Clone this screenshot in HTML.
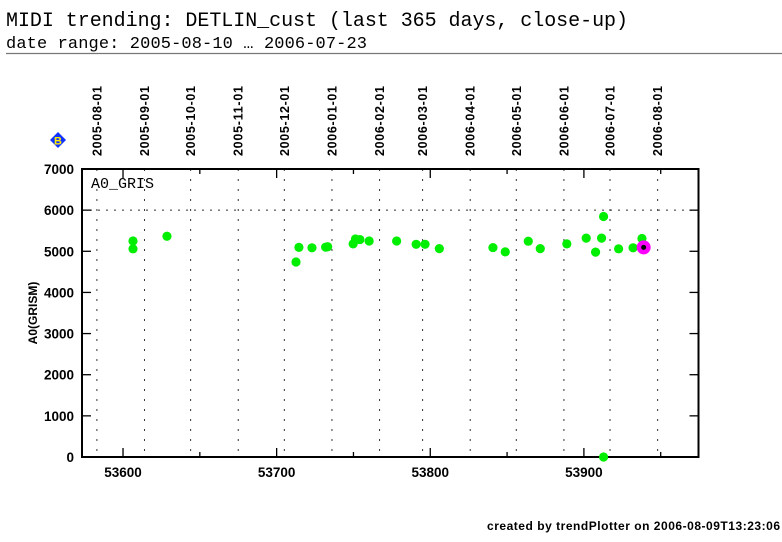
<!DOCTYPE html>
<html><head><meta charset="utf-8">
<style>
body{margin:0;background:#fff;width:782px;height:542px;overflow:hidden}
svg{display:block}
</style></head>
<body>
<svg id="chart" width="782" height="542" xmlns="http://www.w3.org/2000/svg">
<text x="6" y="26" font-family="Liberation Mono, monospace" font-size="20" fill="#000" textLength="622">MIDI trending: DETLIN_cust (last 365 days, close-up)</text>
<text x="6" y="48" font-family="Liberation Mono, monospace" font-size="17" fill="#000" textLength="361">date range: 2005-08-10 … 2006-07-23</text>
<line x1="6" y1="53.5" x2="782" y2="53.5" stroke="#777" stroke-width="1.2"/>
<g>
<polygon points="58,132 66,140 58,148 50,140" fill="#1133ff"/>
<text x="58" y="144.5" text-anchor="middle" font-family="Liberation Sans, sans-serif" font-weight="bold" font-size="11" fill="#ffee00">B</text>
</g>
<g id="grid"></g>
<g id="axes"></g>
<g id="marks"></g>
<text x="91" y="188" font-family="Liberation Mono, monospace" font-size="15" fill="#000">A0_GRIS</text>
<text transform="translate(37,313) rotate(-90)" text-anchor="middle" font-family="Liberation Sans, sans-serif" font-weight="bold" font-size="12" fill="#000">A0(GRISM)</text>
<text x="780" y="530" text-anchor="end" font-family="Liberation Sans, sans-serif" font-weight="bold" font-size="12" fill="#000" textLength="293">created by trendPlotter on 2006-08-09T13:23:06</text>
</svg>
<script>
const mjdValues=[53606.5,53606.5,53628.6,53712.6,53714.5,53723,53731.9,53733.2,53749.8,53751.3,53754.2,53760.2,53778.1,53790.8,53796.6,53805.9,53840.8,53848.8,53863.8,53871.6,53888.9,53901.5,53907.6,53911.5,53912.8,53912.8,53922.6,53932,53937.8];
const a0Values=[5250,5060,5365,4740,5095,5085,5100,5110,5180,5300,5285,5250,5250,5170,5170,5065,5090,4985,5245,5065,5180,5320,4980,5320,5845,0,5060,5085,5310];
const latestMjd=[53938.9];
const latestVal=[5095];
const xTicks=[53600,53700,53800,53900];
const xMinorTicks=[53650,53750,53850,53950];
const yTicks=[0,1000,2000,3000,4000,5000,6000,7000];
const dateLabels=["2005-08-01","2005-09-01","2005-10-01","2005-11-01","2005-12-01","2006-01-01","2006-02-01","2006-03-01","2006-04-01","2006-05-01","2006-06-01","2006-07-01","2006-08-01"];
const dateMjd=[53583,53614,53644,53675,53705,53736,53767,53795,53826,53856,53887,53917,53948];

const L=82,R=698.5,T=169,B=457;
const xMin=53573.3,xMax=53974.6,yMin=0,yMax=7000;
const X=v=>L+(v-xMin)/(xMax-xMin)*(R-L);
const Y=v=>B-(v-yMin)/(yMax-yMin)*(B-T);
const NS="http://www.w3.org/2000/svg";
function mk(tag,attrs,parent){const e=document.createElementNS(NS,tag);for(const k in attrs)e.setAttribute(k,attrs[k]);parent.appendChild(e);return e;}
const grid=document.getElementById('grid'),axes=document.getElementById('axes'),marks=document.getElementById('marks');

dateMjd.forEach((m,i)=>{
 const x=X(m);
 const gl=mk('line',{x1:x,y1:T,x2:x,y2:B,stroke:'#333','stroke-width':1,'stroke-dasharray':'2,8'},grid);
 
 
 const t=mk('text',{transform:`translate(${x+4.5},156) rotate(-90)`,'font-family':'Liberation Sans, sans-serif','font-weight':'bold','font-size':'12.5',fill:'#000',textLength:'70'},grid);
 t.textContent=dateLabels[i];
 
 
});
const hg=mk('line',{x1:L,y1:Y(6000),x2:R,y2:Y(6000),stroke:'#333','stroke-width':1,'stroke-dasharray':'2,6'},grid);



const frame=mk('rect',{x:L,y:T,width:R-L,height:B-T,fill:'none',stroke:'#000','stroke-width':2},axes);


xTicks.forEach(v=>{
 const x=X(v);
 mk('line',{x1:x,y1:B,x2:x,y2:B-9,stroke:'#000','stroke-width':1.3},axes);
 mk('line',{x1:x,y1:T,x2:x,y2:T+9,stroke:'#000','stroke-width':1.3},axes);
 const t=mk('text',{x:x,y:B+20,'text-anchor':'middle','font-family':'Liberation Sans, sans-serif','font-weight':'bold','font-size':'13.5',fill:'#000'},axes);
 t.textContent=v;
 
 
});
xMinorTicks.forEach(v=>{
 const x=X(v);
 mk('line',{x1:x,y1:B,x2:x,y2:B-5,stroke:'#000','stroke-width':1.3},axes);
 mk('line',{x1:x,y1:T,x2:x,y2:T+5,stroke:'#000','stroke-width':1.3},axes);
});
yTicks.forEach(v=>{
 const y=Y(v);
 mk('line',{x1:L,y1:y,x2:L+9,y2:y,stroke:'#000','stroke-width':1.3},axes);
 mk('line',{x1:R,y1:y,x2:R-9,y2:y,stroke:'#000','stroke-width':1.3},axes);
 const t=mk('text',{x:L-8,y:y+5,'text-anchor':'end','font-family':'Liberation Sans, sans-serif','font-weight':'bold','font-size':'13.5',fill:'#000'},axes);
 t.textContent=v;
 
 
});

mjdValues.forEach((m,i)=>{
 const c=mk('circle',{cx:X(m),cy:Y(a0Values[i]),r:4.6,fill:'#00ee00'},marks);
 
 
});
latestMjd.forEach((m,i)=>{
 const c=mk('circle',{cx:X(m),cy:Y(latestVal[i]),r:7,fill:'#ff00ff'},marks);
 
 
 const d=mk('circle',{cx:X(m),cy:Y(latestVal[i]),r:2.5,fill:'#000'},marks);
 
 
});
</script>
</body></html>
